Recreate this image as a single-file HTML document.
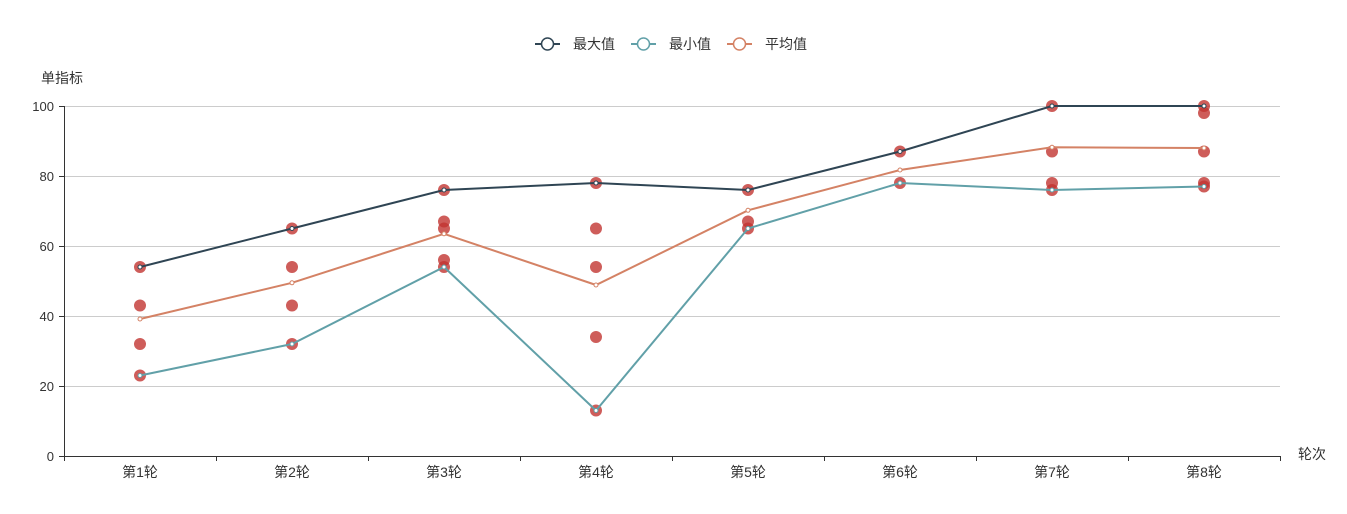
<!DOCTYPE html><html><head><meta charset="utf-8"><style>body{margin:0;background:#fff}svg{display:block}text{font-family:"Liberation Sans","Noto Sans CJK SC",sans-serif;font-size:13px;fill:#333}.c{font-size:14px}</style></head><body>
<svg width="1347" height="514" viewBox="0 0 1347 514">
<g stroke="#ccc" stroke-width="1">
<line x1="64" y1="106.5" x2="1280" y2="106.5"/><line x1="64" y1="176.5" x2="1280" y2="176.5"/><line x1="64" y1="246.5" x2="1280" y2="246.5"/><line x1="64" y1="316.5" x2="1280" y2="316.5"/><line x1="64" y1="386.5" x2="1280" y2="386.5"/></g>
<g stroke="#333"><line x1="64.5" y1="106" x2="64.5" y2="456"/><line x1="59" y1="106.5" x2="64" y2="106.5"/><line x1="59" y1="176.5" x2="64" y2="176.5"/><line x1="59" y1="246.5" x2="64" y2="246.5"/><line x1="59" y1="316.5" x2="64" y2="316.5"/><line x1="59" y1="386.5" x2="64" y2="386.5"/><line x1="59" y1="456.5" x2="64" y2="456.5"/>
<line x1="64" y1="456.5" x2="1280" y2="456.5"/>
<line x1="64.5" y1="456" x2="64.5" y2="461"/><line x1="216.5" y1="456" x2="216.5" y2="461"/><line x1="368.5" y1="456" x2="368.5" y2="461"/><line x1="520.5" y1="456" x2="520.5" y2="461"/><line x1="672.5" y1="456" x2="672.5" y2="461"/><line x1="824.5" y1="456" x2="824.5" y2="461"/><line x1="976.5" y1="456" x2="976.5" y2="461"/><line x1="1128.5" y1="456" x2="1128.5" y2="461"/><line x1="1280.5" y1="456" x2="1280.5" y2="461"/></g>
<g text-anchor="end"><text x="54" y="111">100</text><text x="54" y="181">80</text><text x="54" y="251">60</text><text x="54" y="321">40</text><text x="54" y="391">20</text><text x="54" y="461">0</text></g>
<text class="c" x="41" y="83">单指标</text><text class="c" x="1298" y="459">轮次</text>
<g text-anchor="middle" class="c"><text class="c" x="140" y="477">第1轮</text><text class="c" x="292" y="477">第2轮</text><text class="c" x="444" y="477">第3轮</text><text class="c" x="596" y="477">第4轮</text><text class="c" x="748" y="477">第5轮</text><text class="c" x="900" y="477">第6轮</text><text class="c" x="1052" y="477">第7轮</text><text class="c" x="1204" y="477">第8轮</text></g>
<g fill="#c23531" fill-opacity="0.8">
<circle cx="140" cy="267" r="6"/><circle cx="140" cy="305.5" r="6"/><circle cx="140" cy="344" r="6"/><circle cx="140" cy="375.5" r="6"/>
<circle cx="292" cy="228.5" r="6"/><circle cx="292" cy="267" r="6"/><circle cx="292" cy="305.5" r="6"/><circle cx="292" cy="344" r="6"/>
<circle cx="444" cy="190" r="6"/><circle cx="444" cy="221.5" r="6"/><circle cx="444" cy="228.5" r="6"/><circle cx="444" cy="260" r="6"/><circle cx="444" cy="267" r="6"/>
<circle cx="596" cy="183" r="6"/><circle cx="596" cy="228.5" r="6"/><circle cx="596" cy="267" r="6"/><circle cx="596" cy="337" r="6"/><circle cx="596" cy="410.5" r="6"/>
<circle cx="748" cy="190" r="6"/><circle cx="748" cy="221.5" r="6"/><circle cx="748" cy="228.5" r="6"/>
<circle cx="900" cy="151.5" r="6"/><circle cx="900" cy="183" r="6"/>
<circle cx="1052" cy="106" r="6"/><circle cx="1052" cy="151.5" r="6"/><circle cx="1052" cy="183" r="6"/><circle cx="1052" cy="190" r="6"/>
<circle cx="1204" cy="106" r="6"/><circle cx="1204" cy="113" r="6"/><circle cx="1204" cy="151.5" r="6"/><circle cx="1204" cy="183" r="6"/><circle cx="1204" cy="186.5" r="6"/></g>
<g fill="none" stroke-width="2">
<polyline stroke="#2f4554" points="140,267 292,228.5 444,190 596,183 748,190 900,151.5 1052,106 1204,106"/>
<polyline stroke="#61a0a8" points="140,375.5 292,344 444,267 596,410.5 748,228.5 900,183 1052,190 1204,186.5"/>
<polyline stroke="#d48265" points="140,319 292,282.8 444,233.8 596,285 748,210.3 900,170 1052,147.3 1204,148"/></g>
<g fill="#fff" stroke-width="1">
<g stroke="#2f4554"><circle cx="140" cy="267" r="2"/><circle cx="292" cy="228.5" r="2"/><circle cx="444" cy="190" r="2"/><circle cx="596" cy="183" r="2"/><circle cx="748" cy="190" r="2"/><circle cx="900" cy="151.5" r="2"/><circle cx="1052" cy="106" r="2"/><circle cx="1204" cy="106" r="2"/></g>
<g stroke="#61a0a8"><circle cx="140" cy="375.5" r="2"/><circle cx="292" cy="344" r="2"/><circle cx="444" cy="267" r="2"/><circle cx="596" cy="410.5" r="2"/><circle cx="748" cy="228.5" r="2"/><circle cx="900" cy="183" r="2"/><circle cx="1052" cy="190" r="2"/><circle cx="1204" cy="186.5" r="2"/></g>
<g stroke="#d48265"><circle cx="140" cy="319" r="2"/><circle cx="292" cy="282.8" r="2"/><circle cx="444" cy="233.8" r="2"/><circle cx="596" cy="285" r="2"/><circle cx="748" cy="210.3" r="2"/><circle cx="900" cy="170" r="2"/><circle cx="1052" cy="147.3" r="2"/><circle cx="1204" cy="148" r="2"/></g></g>
<g stroke-width="2" fill="#fff">
<line x1="535" y1="44" x2="560" y2="44" stroke="#2f4554"/><circle cx="547.5" cy="44" r="6" stroke="#2f4554" stroke-width="1.5"/>
<line x1="631" y1="44" x2="656" y2="44" stroke="#61a0a8"/><circle cx="643.5" cy="44" r="6" stroke="#61a0a8" stroke-width="1.5"/>
<line x1="727" y1="44" x2="752" y2="44" stroke="#d48265"/><circle cx="739.5" cy="44" r="6" stroke="#d48265" stroke-width="1.5"/></g>
<text class="c" x="573" y="49">最大值</text><text class="c" x="669" y="49">最小值</text><text class="c" x="765" y="49">平均值</text>
</svg></body></html>
